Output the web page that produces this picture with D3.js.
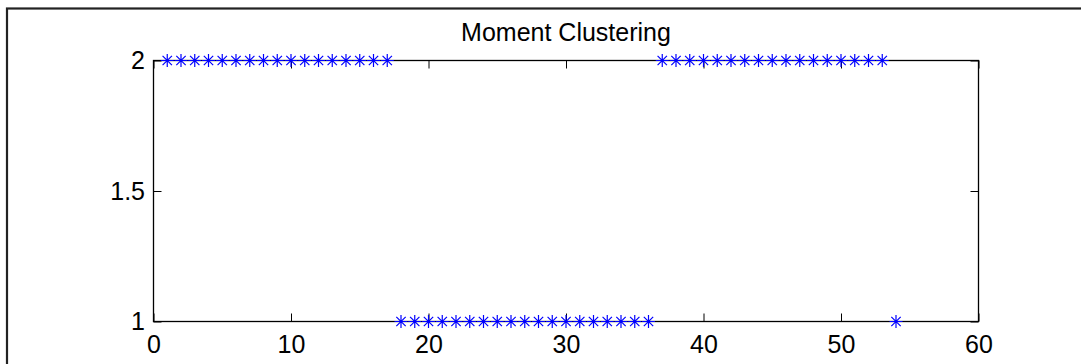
<!DOCTYPE html>
<html>
<head>
<meta charset="utf-8">
<script src="https://cdn.jsdelivr.net/npm/d3@7"></script>
<style>
  html, body { margin: 0; padding: 0; background: #fff; }
  svg { display: block; }
  text { font-family: "Liberation Sans", Arial, Helvetica, sans-serif; fill: #000; }
</style>
</head>
<body>
<svg id="chart" width="1081" height="364"></svg>
<script>
// Data: sample index -> cluster label
const indices = d3.range(1, 55);
const labels = [
  2,2,2,2,2,2,2,2,2,2,2,2,2,2,2,2,2,
  1,1,1,1,1,1,1,1,1,1,1,1,1,1,1,1,1,1,1,
  2,2,2,2,2,2,2,2,2,2,2,2,2,2,2,2,2,
  1
];
const xTicks = [0, 10, 20, 30, 40, 50, 60];
const yTicks = [1, 1.5, 2];
const yTickLabels = ["1", "1.5", "2"];
const title = "Moment Clustering";

(function () {
const svg = d3.select("#chart");

// outer figure frame
svg.append("rect")
  .attr("x", 7).attr("y", 8.5)
  .attr("width", 1100).attr("height", 400)
  .attr("fill", "none").attr("stroke", "#222").attr("stroke-width", 2.2);

const mLeft = 153.5, mRight = 978.5, mTop = 60.5, mBottom = 321.5;
const x = d3.scaleLinear().domain([0, 60]).range([mLeft, mRight]);
const y = d3.scaleLinear().domain([1, 2]).range([mBottom, mTop]);

const tickLen = 8;
const fontSize = 25;
const axisStyle = g => {
  g.attr("font-size", fontSize).attr("font-family", "Liberation Sans, Arial, sans-serif");
  g.select(".domain").remove();
  g.selectAll(".tick line").attr("stroke", "#000").attr("stroke-width", 1);
  g.selectAll(".tick text").attr("font-size", fontSize).attr("fill", "#000");
};

// bottom axis (ticks inward)
svg.append("g").attr("transform", `translate(0,${mBottom})`)
  .call(d3.axisBottom(x).tickValues(xTicks).tickSizeInner(-tickLen).tickSizeOuter(0).tickPadding(13.5).tickFormat(d3.format("d")))
  .call(axisStyle);
// top axis ticks (no labels)
svg.append("g").attr("transform", `translate(0,${mTop})`)
  .call(d3.axisTop(x).tickValues(xTicks).tickSizeInner(-tickLen).tickSizeOuter(0).tickFormat(""))
  .call(axisStyle);
// left axis
svg.append("g").attr("transform", `translate(${mLeft},0)`)
  .call(d3.axisLeft(y).tickValues(yTicks).tickSizeInner(-tickLen).tickSizeOuter(0).tickPadding(8.5)
    .tickFormat((d, i) => yTickLabels[i]))
  .call(axisStyle);
// right axis ticks
svg.append("g").attr("transform", `translate(${mRight},0)`)
  .call(d3.axisRight(y).tickValues(yTicks).tickSizeInner(-tickLen).tickSizeOuter(0).tickFormat(""))
  .call(axisStyle);

// axes box
svg.append("rect")
  .attr("x", mLeft).attr("y", mTop)
  .attr("width", mRight - mLeft).attr("height", mBottom - mTop)
  .attr("fill", "none").attr("stroke", "#000").attr("stroke-width", 1.3);

// title
svg.append("text")
  .attr("x", (mLeft + mRight) / 2).attr("y", 41)
  .attr("text-anchor", "middle").attr("font-size", fontSize)
  .text(title);

// asterisk markers (MATLAB style '*')
const r = 6.5, rd = r * 0.72;
const starPath = `M0,${-r}L0,${r}M${-r},0L${r},0M${-rd},${-rd}L${rd},${rd}M${-rd},${rd}L${rd},${-rd}`;
svg.append("g").selectAll("path")
  .data(indices.map((d, i) => ({ i: d, v: labels[i] })))
  .join("path")
  .attr("transform", d => `translate(${x(d.i)},${y(d.v)})`)
  .attr("d", starPath)
  .attr("fill", "none")
  .attr("stroke", "#0000ff")
  .attr("stroke-width", 1.2);
})();
</script>
</body>
</html>
